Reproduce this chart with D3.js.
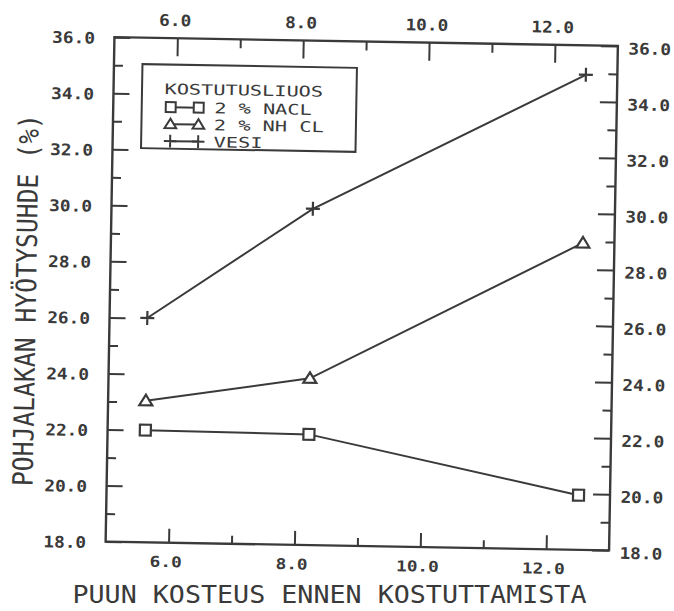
<!DOCTYPE html>
<html><head><meta charset="utf-8">
<script src="https://cdn.jsdelivr.net/npm/d3@7"></script>
<style>html,body{margin:0;padding:0;background:#fff;} svg{display:block}</style>
</head><body><svg id="chart" width="674" height="611"></svg>
<script>
// ---- data ----
const xValues = [5.6, 8.2, 12.5];
const naclValues = [22.0, 21.95, 19.95];
const nh4clValues = [23.05, 23.95, 28.95];
const vesiValues = [26.0, 30.0, 34.95];
const seriesNames = ["2 % NACL", "2 % NH CL", "VESI"];
const seriesSymbols = ["square", "triangle", "plus"];
const legendTitle = "KOSTUTUSLIUOS";
const xMajorTicks = [6, 8, 10, 12];
const xMinorTicks = [7, 9, 11];
const yLabelTicks = [18, 20, 22, 24, 26, 28, 30, 32, 34, 36];
const yMinorTicks = [19, 21, 23, 25, 27, 29, 31, 33, 35];
const xTitle = "PUUN KOSTEUS ENNEN KOSTUTTAMISTA";
const yTitle = "POHJALAKAN HYÖTYSUHDE (%)";

// ---- layout ----
const ink = "#3a3a3a";
const L = 110, R = 613.5, T = 41.5, B = 546;
const mono = "'DejaVu Sans Mono', 'Liberation Mono', monospace";
const svg = d3.select("#chart");
svg.append("rect").attr("width", 674).attr("height", 611).attr("fill", "#fff");
const g = svg.append("g").attr("transform", "rotate(1, 361.75, 293.75)");

const x = d3.scaleLinear().domain([5, 13]).range([L, R]);
const y = d3.scaleLinear().domain([18, 36]).range([B, T]);
const fmt = d3.format(".1f");
const pitch = 10.7;

function baseAxis(sel) {
  sel.attr("color", ink).attr("font-family", mono).attr("font-size", 16).attr("font-weight", "bold");
  sel.select(".domain").remove();
  sel.selectAll("line").attr("stroke-width", 2);
}
function fitText(sel, p) {
  sel.each(function () {
    const t = d3.select(this);
    t.attr("textLength", t.text().length * p).attr("lengthAdjust", "spacingAndGlyphs");
  });
}

// bottom
g.append("g").attr("transform", `translate(0,${B})`)
  .call(d3.axisBottom(x).tickValues(xMajorTicks).tickSizeInner(-14).tickSizeOuter(0).tickFormat(fmt))
  .call(baseAxis)
  .call(s => s.attr("font-size", 15))
  .call(s => s.selectAll("text").attr("y", 24.5).attr("dy", 0).attr("dx", -3).call(fitText, pitch));
g.append("g").attr("transform", `translate(0,${B})`)
  .call(d3.axisBottom(x).tickValues(xMinorTicks).tickSizeInner(-8).tickSizeOuter(0).tickFormat(""))
  .call(baseAxis);
// top
g.append("g").attr("transform", `translate(0,${T})`)
  .call(d3.axisTop(x).tickValues(xMajorTicks).tickSizeInner(-18).tickSizeOuter(0).tickFormat(fmt))
  .call(baseAxis)
  .call(s => s.selectAll("text").attr("y", -12.1).attr("dy", 0).attr("dx", -3).call(fitText, pitch));
g.append("g").attr("transform", `translate(0,${T})`)
  .call(d3.axisTop(x).tickValues(xMinorTicks).tickSizeInner(-9).tickSizeOuter(0).tickFormat(""))
  .call(baseAxis);
// left
g.append("g").attr("transform", `translate(${L},0)`)
  .call(d3.axisLeft(y).tickValues(yLabelTicks).tickSizeInner(-16).tickSizeOuter(0).tickFormat(fmt))
  .call(baseAxis)
  .call(s => s.selectAll("text").attr("x", -19.5).attr("dy", 6.3).call(fitText, pitch));
g.append("g").attr("transform", `translate(${L},0)`)
  .call(d3.axisLeft(y).tickValues(yMinorTicks).tickSizeInner(-9).tickSizeOuter(0).tickFormat(""))
  .call(baseAxis);
// right
g.append("g").attr("transform", `translate(${R},0)`)
  .call(d3.axisRight(y).tickValues(yLabelTicks).tickSizeInner(-17).tickSizeOuter(0).tickFormat(fmt))
  .call(baseAxis)
  .call(s => s.selectAll("text").attr("x", 10.5).attr("dy", 7.8).call(fitText, pitch));
g.append("g").attr("transform", `translate(${R},0)`)
  .call(d3.axisRight(y).tickValues(yMinorTicks).tickSizeInner(-9).tickSizeOuter(0).tickFormat(""))
  .call(baseAxis);

// frame
g.append("rect").attr("x", L).attr("y", T).attr("width", R - L).attr("height", B - T)
  .attr("fill", "none").attr("stroke", ink).attr("stroke-width", 2.4);

// ---- markers ----
function markerPath(type, s) {
  const k = s || 1;
  if (type === "square") { const h = 5.5 * k; return `M${-h},${-h}H${h}V${h}H${-h}Z`; }
  if (type === "triangle") { return `M0,${-6 * k}L${6.5 * k},${4.5 * k}L${-6.5 * k},${4.5 * k}Z`; }
  const a = 7 * k; return `M${-a},0H${a}M0,${-a}V${a}`;
}

const series = [naclValues, nh4clValues, vesiValues];
const line = d3.line().x(d => x(d[0])).y(d => y(d[1]));
series.forEach((vals, i) => {
  const pts = xValues.map((xv, j) => [xv, vals[j]]);
  g.append("path").attr("d", line(pts)).attr("fill", "none").attr("stroke", ink).attr("stroke-width", 2);
  g.selectAll(null).data(pts).enter().append("path")
    .attr("transform", d => `translate(${x(d[0])},${y(d[1])})`)
    .attr("d", markerPath(seriesSymbols[i]))
    .attr("fill", seriesSymbols[i] === "plus" ? "none" : "#fff")
    .attr("stroke", ink).attr("stroke-width", 2.2);
});

// ---- legend ----
const lg = g.append("g");
lg.append("rect").attr("x", 138.5).attr("y", 68).attr("width", 214.5).attr("height", 84)
  .attr("fill", "#fff").attr("stroke", ink).attr("stroke-width", 2);
lg.append("text").attr("x", 161).attr("y", 97.5).text(legendTitle)
  .attr("font-family", mono).attr("font-size", 14.5).attr("fill", ink)
  .call(fitText, 12.2);
seriesNames.forEach((name, i) => {
  const cy = 110.5 + i * 17;
  lg.append("line").attr("x1", 167.5).attr("x2", 195.5).attr("y1", cy).attr("y2", cy)
    .attr("stroke", ink).attr("stroke-width", 2);
  [167.5, 195.5].forEach(cx => {
    lg.append("path").attr("transform", `translate(${cx},${cy})`)
      .attr("d", markerPath(seriesSymbols[i], 0.9))
      .attr("fill", seriesSymbols[i] === "plus" ? "none" : "#fff")
      .attr("stroke", ink).attr("stroke-width", 2);
  });
  lg.append("text").attr("x", 211).attr("y", cy + 5.3).text(name)
    .attr("font-family", mono).attr("font-size", 14.5).attr("fill", ink)
    .call(fitText, 12.2);
});

// ---- titles ----
svg.append("text").attr("x", 329.5).attr("y", 603).attr("text-anchor", "middle")
  .attr("font-family", mono).attr("font-size", 25.5).attr("fill", ink)
  .attr("textLength", 514).attr("lengthAdjust", "spacingAndGlyphs").text(xTitle);
g.append("text").attr("transform", "translate(36,306) rotate(-90)").attr("text-anchor", "middle")
  .attr("font-family", mono).attr("font-size", 28).attr("fill", ink)
  .attr("textLength", 372).attr("lengthAdjust", "spacingAndGlyphs").text(yTitle);
</script></body></html>
